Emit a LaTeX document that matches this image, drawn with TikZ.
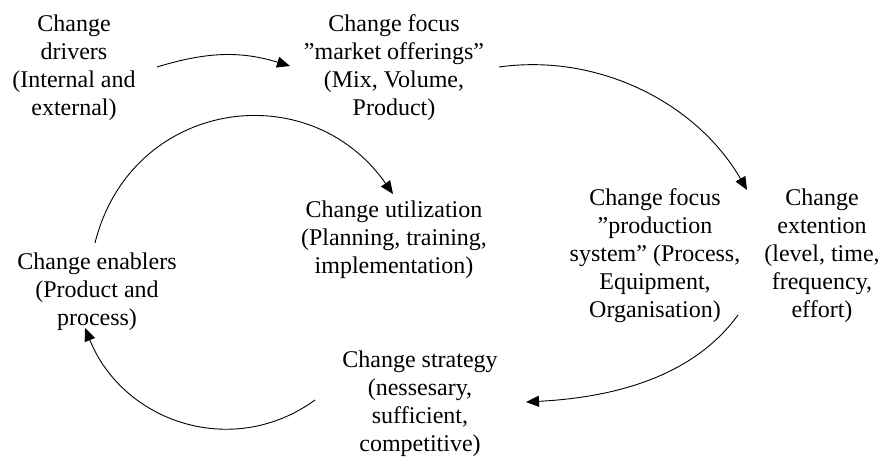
\documentclass[tikz,border=0pt]{standalone}
\usepackage{fontspec}
\setmainfont{Liberation Serif}
\usetikzlibrary{arrows.meta}
\begin{document}
\begin{tikzpicture}[x=1pt,y=1pt,
  lbl/.style={align=center, inner sep=0pt, font=\fontsize{24}{28}\selectfont},
  flow/.style={-{Triangle[length=13pt,width=11pt]}, line width=0.9pt}]
\useasboundingbox (0,0) rectangle (883,457);
\node[lbl] (drivers) at (74,389) {Change\\drivers\\(Internal and\\external)};
\node[lbl] (market) at (394,389) {Change focus\\”market offerings”\\(Mix, Volume,\\Product)};
\node[lbl] (production) at (655,201.5) {Change focus\\”production\\system” (Process,\\Equipment,\\Organisation)};
\node[lbl] (extention) at (822,201.5) {Change\\extention\\(level, time,\\frequency,\\effort)};
\node[lbl] (utilization) at (394,217) {Change utilization\\(Planning, training,\\implementation)};
\node[lbl] (enablers) at (97,165) {Change enablers\\(Product and\\process)};
\node[lbl] (strategy) at (420,53) {Change strategy\\(nessesary,\\sufficient,\\competitive)};

\draw[flow] ([shift={(83,1)}]drivers.center) to[out=17,in=163] ([shift={(-104,2)}]market.center);
\draw[flow] ([shift={(105,1)}]market.center) to[out=8,in=120,looseness=0.93] ([shift={(92,65.5)}]production.center);
\draw[flow] ([shift={(83,-59.5)}]production.center) to[out=-126,in=3,looseness=0.9] ([shift={(106,2)}]strategy.center);
\draw[flow] ([shift={(-105,4)}]strategy.center) to[out=-144,in=-68,looseness=1.08] ([shift={(-12,-36)}]enablers.center);
\draw[flow] ([shift={(-2,49)}]enablers.center) to[out=76,in=125,looseness=1.25] ([shift={(-1,46)}]utilization.center);
\end{tikzpicture}
\end{document}
